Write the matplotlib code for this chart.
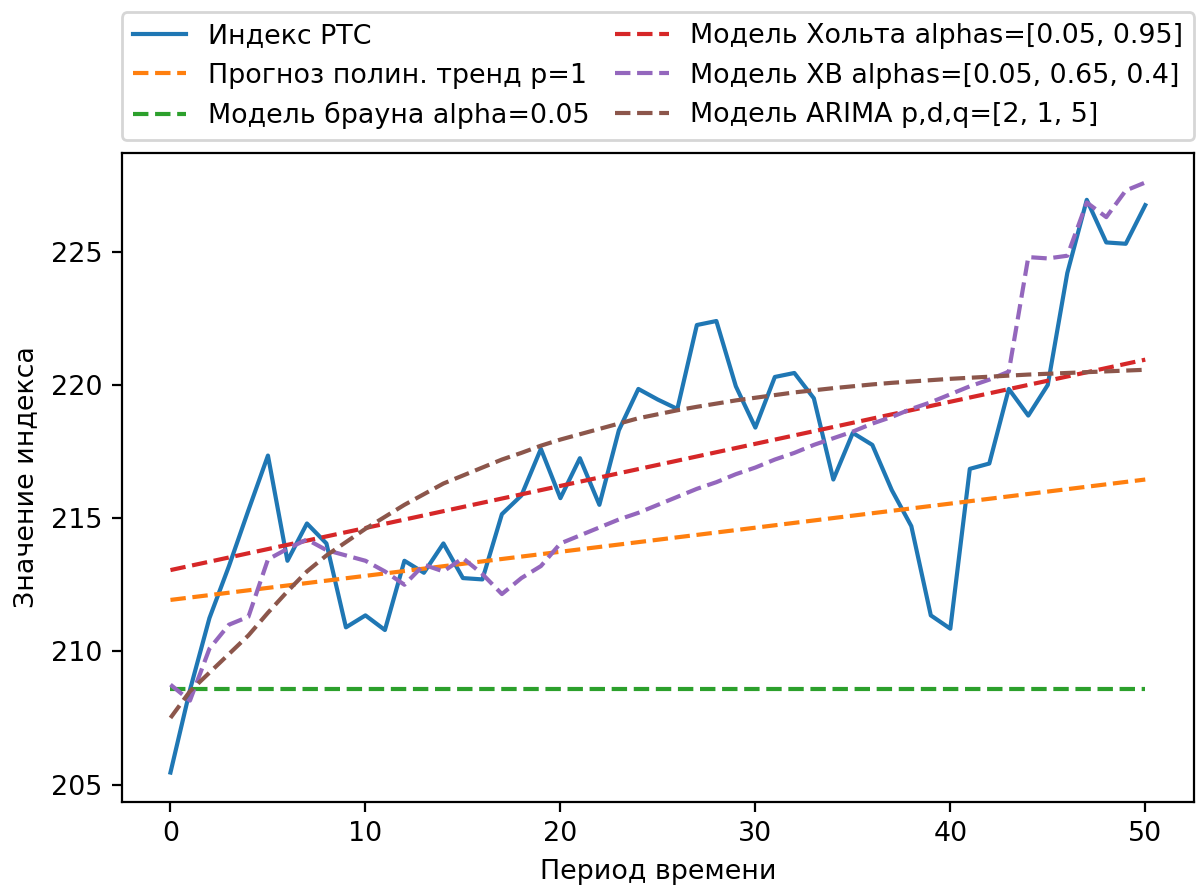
import matplotlib
matplotlib.use("Agg")
import matplotlib.pyplot as plt

# periods 0..50
periods = list(range(51))

# RTS index values
rts = [205.45, 208.55, 211.25, 213.2, 215.3, 217.35, 213.4, 214.8, 214.05, 210.9,
       211.35, 210.8, 213.4, 212.95, 214.05, 212.75, 212.7, 215.15, 215.85, 217.6,
       215.75, 217.25, 215.5, 218.3, 219.85, 219.45, 219.1, 222.25, 222.4, 219.95,
       218.4, 220.3, 220.45, 219.5, 216.45, 218.2, 217.75, 216.05, 214.7, 211.35,
       210.85, 216.85, 217.05, 219.85, 218.85, 220.0, 224.2, 226.95, 225.35, 225.3,
       226.75]

# Holt-Winters model
hw = [208.75, 208.15, 210.1, 211.0, 211.3, 213.45, 213.85, 214.2, 213.8, 213.6,
      213.4, 213.0, 212.5, 213.25, 213.0, 213.5, 212.9, 212.15, 212.75, 213.2,
      214.05, 214.35, 214.65, 214.95, 215.2, 215.5, 215.8, 216.1, 216.35, 216.65,
      216.9, 217.2, 217.45, 217.75, 218.0, 218.25, 218.55, 218.8, 219.1, 219.35,
      219.65, 219.95, 220.2, 220.5, 224.8, 224.75, 224.85, 226.85, 226.3, 227.3,
      227.6]

# ARIMA model
arima = [207.5, 208.5, 209.2, 209.9, 210.6, 211.45, 212.25, 213.0, 213.6, 214.1,
         214.6, 215.05, 215.5, 215.9, 216.3, 216.6, 216.9, 217.2, 217.45, 217.72,
         217.95, 218.15, 218.35, 218.55, 218.75, 218.9, 219.05, 219.18, 219.3, 219.42,
         219.52, 219.62, 219.72, 219.8, 219.88, 219.95, 220.02, 220.08, 220.13, 220.18,
         220.23, 220.27, 220.31, 220.35, 220.39, 220.42, 220.45, 220.48, 220.51, 220.54,
         220.57]

# straight-line models: values at the first and last period
ends = [0, 50]
poly_trend = [211.93, 216.45]
brown = [208.6, 208.6]
holt = [213.05, 220.95]

plt.rcParams['font.size'] = 9.7

fig = plt.figure(figsize=(1204 / 200, 888 / 200), dpi=200)
ax = fig.add_axes([0.1011, 0.0968, 0.8906, 0.7309])

ax.plot(periods, rts, label="Индекс РТС")
ax.plot(ends, poly_trend, "--", label="Прогноз полин. тренд p=1")
ax.plot(ends, brown, "--", label="Модель брауна alpha=0.05")
ax.plot(ends, holt, "--", label="Модель Хольта alphas=[0.05, 0.95]")
ax.plot(periods, hw, "--", label="Модель ХВ alphas=[0.05, 0.65, 0.4]")
ax.plot(periods, arima, "--", label="Модель ARIMA p,d,q=[2, 1, 5]")

ax.set_xlabel("Период времени")
ax.set_ylabel("Значение индекса")
ax.legend(bbox_to_anchor=(0., 1.02, 1., .102), loc="lower left",
          ncol=2, mode="expand", borderaxespad=0.)

fig.savefig("out.png", dpi=200)
